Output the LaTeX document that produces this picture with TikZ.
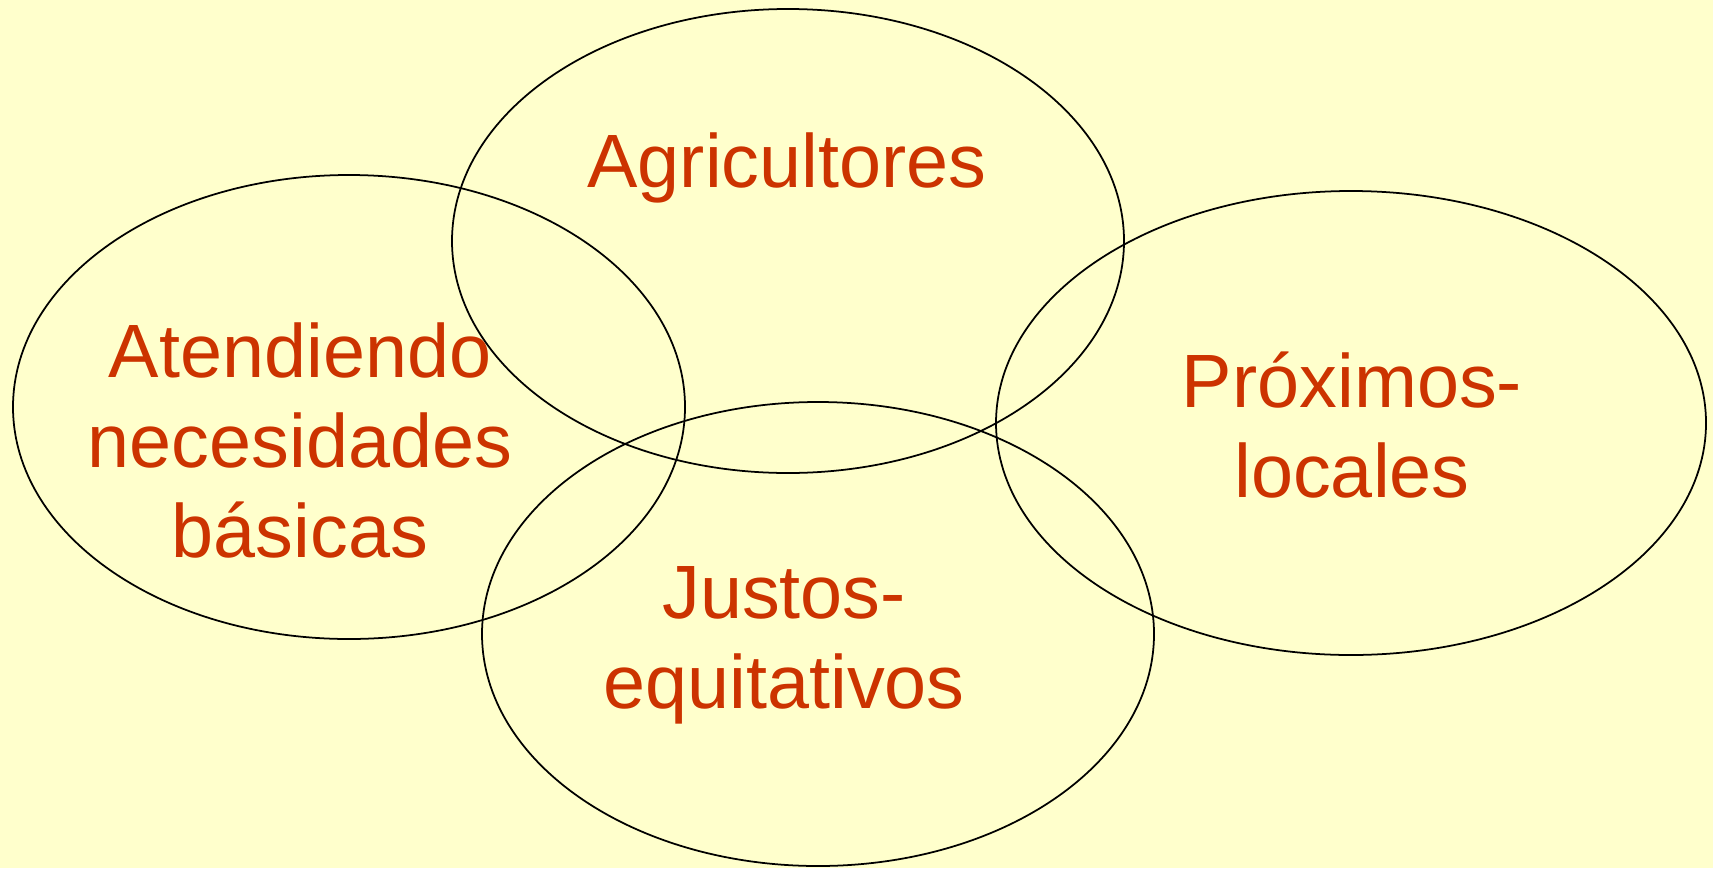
\documentclass[tikz,border=0pt]{standalone}
\usepackage{fontspec}
\setmainfont{Liberation Sans}
\usetikzlibrary{shapes.geometric}
\definecolor{fondo}{HTML}{FFFFCC}
\definecolor{rojizo}{HTML}{CC3300}

\begin{document}
\begin{tikzpicture}[bulle/.style={draw=black, ellipse, line width=0.5pt, inner sep=0pt, minimum width=6.72cm, minimum height=4.64cm},
                    etiqueta/.style={text=rojizo, align=center, inner sep=0pt, anchor=base, font=\fontsize{21.5}{25.6}\selectfont}]

	\fill[fondo] (0,0) rectangle (17.13,8.68);
	\useasboundingbox (0,0) rectangle (17.13,8.68);

	\node[bulle] (Necesidades) at (3.49,4.61) {};
	
	\node[bulle] (Agricultores) at (7.88,6.27) {};
	
	\node[bulle, minimum width=7.10cm] (Proximos) at (13.51,4.45) {};
	
	\node[bulle] (Justos) at (8.18,2.34) {};
	
	
	\node[etiqueta] (TxtAgri) at (7.87,6.81) {Agricultores};
	
	\node[etiqueta] (TxtNec) at (3.00,3.11) {Atendiendo\\ necesidades\\ básicas};
	
	\node[etiqueta] (TxtProx) at (13.52,3.71) {Próximos-\\ locales};
	
	\node[etiqueta] (TxtJust) at (7.84,1.60) {Justos-\\ equitativos};
	
\end{tikzpicture}
\end{document}
